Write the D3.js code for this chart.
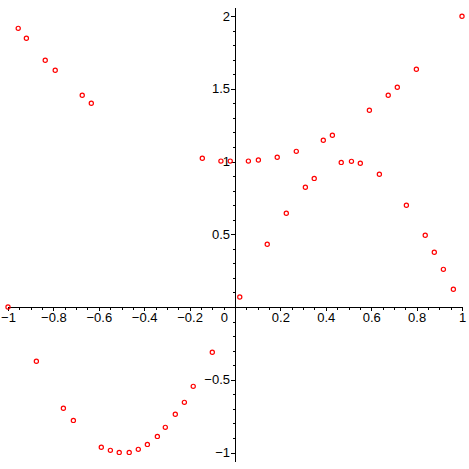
<!DOCTYPE html>
<html>
<head>
<meta charset="utf-8">
<script src="https://cdn.jsdelivr.net/npm/d3@7"></script>
<style>
    body { margin: 0; background: #fff; }
    #chart { width: 469px; height: 469px; }
    .tick text { font-family: "Liberation Sans", Arial, sans-serif; font-size: 13px; fill: #000; }
    .tick line, .domain { shape-rendering: crispEdges; }
</style>
</head>
<body>
<div id="chart"></div>
<script>
// points on the upper curve
const upperX = [-0.955, -0.919, -0.836, -0.792, -0.673, -0.633, -0.144, -0.062, -0.021, 0.059,
    0.103, 0.186, 0.270, 0.389, 0.429, 0.592, 0.675, 0.715, 0.799, 1.0];
const upperY = [1.915, 1.847, 1.696, 1.627, 1.455, 1.400, 1.022, 1.003, 1.003, 1.003,
    1.010, 1.029, 1.070, 1.146, 1.180, 1.352, 1.455, 1.510, 1.634, 1.998];

// points on the wave
const waveX = [-1.0, -0.875, -0.756, -0.712, -0.589, -0.549, -0.510, -0.466, -0.426, -0.386,
    -0.342, -0.307, -0.263, -0.223, -0.184, -0.100, 0.021, 0.142, 0.226, 0.310,
    0.349, 0.468, 0.513, 0.552, 0.636, 0.755, 0.838, 0.878, 0.918, 0.962];
const waveY = [0, -0.373, -0.696, -0.779, -0.964, -0.985, -0.999, -0.999, -0.978, -0.944,
    -0.889, -0.827, -0.737, -0.655, -0.545, -0.311, 0.069, 0.431, 0.644, 0.823,
    0.884, 0.994, 1.001, 0.988, 0.912, 0.699, 0.493, 0.376, 0.259, 0.122];

const xMajor = [-1, -0.8, -0.6, -0.4, -0.2, 0.2, 0.4, 0.6, 0.8, 1];
const yMajor = [-1, -0.5, 0.5, 1, 1.5, 2];

const width = 469, height = 469;

const svg = d3.select("#chart")
    .append("svg")
    .attr("width", width)
    .attr("height", height);

const x = d3.scaleLinear().domain([-1, 1]).range([8, 462]);
const y = d3.scaleLinear().domain([-1.065, 2.055]).range([462, 8]);

// minor ticks first, then the labelled ones on top
const xMinor = d3.range(-20, 21).map(i => i * 0.05);
const yMinor = d3.range(-10, 21).map(i => i * 0.1);

svg.append("g")
    .attr("transform", `translate(0, ${y(0)})`)
    .call(d3.axisBottom(x).tickValues(xMinor).tickSize(3).tickFormat(""))
    .call(g => g.select(".domain").remove());

svg.append("g")
    .attr("transform", `translate(${x(0)}, 0)`)
    .call(d3.axisLeft(y).tickValues(yMinor).tickSize(2).tickFormat(""))
    .call(g => g.select(".domain").remove());

const fmt = d => d3.format("~g")(d);

svg.append("g")
    .attr("transform", `translate(0, ${y(0)})`)
    .call(d3.axisBottom(x).tickValues(xMajor).tickSize(4).tickPadding(2).tickFormat(fmt).tickSizeOuter(0))
    .call(g => g.select(".domain").attr("d", `M${x(-1)},0H${x(1)}`));

svg.append("g")
    .attr("transform", `translate(${x(0)}, 0)`)
    .call(d3.axisLeft(y).tickValues(yMajor).tickSize(4).tickPadding(1).tickFormat(fmt).tickSizeOuter(0))
    .call(g => g.select(".domain").attr("d", `M0,${y(2.055)}V${y(-1.065)}`));

// the origin label sits left of the vertical axis
svg.append("text")
    .attr("x", x(0) - 7)
    .attr("y", y(0) + 6)
    .attr("dy", "0.71em")
    .attr("text-anchor", "end")
    .style("font-family", "Liberation Sans, Arial, sans-serif")
    .style("font-size", "13px")
    .text("0");

const points = upperX.map((d, i) => [d, upperY[i]])
    .concat(waveX.map((d, i) => [d, waveY[i]]));

svg.append("g")
    .selectAll("circle")
    .data(points)
    .enter()
    .append("circle")
    .attr("cx", d => x(d[0]))
    .attr("cy", d => y(d[1]))
    .attr("r", 2.1)
    .attr("fill", "none")
    .attr("stroke", "#ff0000")
    .attr("stroke-width", 1.2);
</script>
</body>
</html>
